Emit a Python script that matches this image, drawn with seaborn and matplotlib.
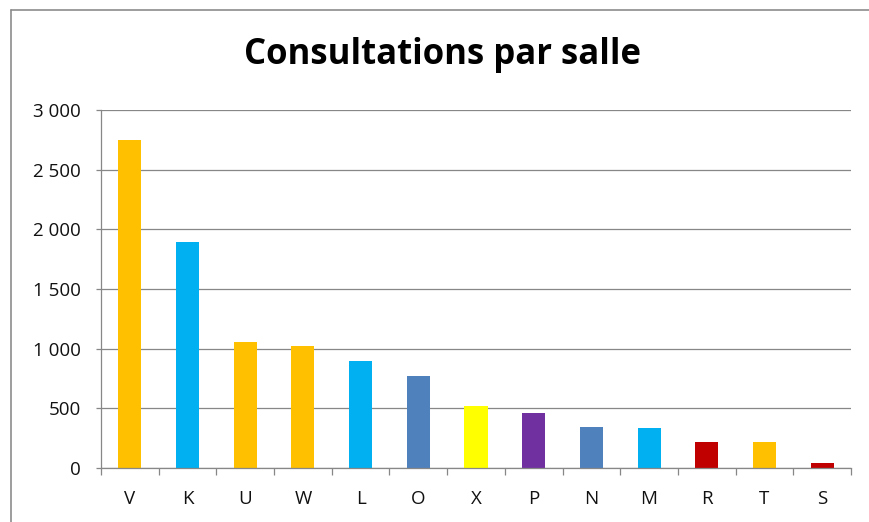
import matplotlib
matplotlib.use("Agg")
import matplotlib.pyplot as plt
import seaborn as sns
import pandas as pd
from matplotlib.lines import Line2D
from matplotlib.ticker import FuncFormatter, MultipleLocator

salles = ["V", "K", "U", "W", "L", "O", "X", "P", "N", "M", "R", "T", "S"]
consultations = [2750, 1890, 1060, 1020, 895, 770, 517, 458, 341, 333, 218, 218, 44]
couleurs = ["#FFC000", "#00B0F0", "#FFC000", "#FFC000", "#00B0F0", "#4F81BD",
            "#FFFF00", "#7030A0", "#4F81BD", "#00B0F0", "#C00000", "#FFC000", "#C00000"]
titre = "Consultations par salle"

sns.set_theme(style="white")
plt.rcParams['font.family'] = ['Open Sans', 'DejaVu Sans']

W, H = 869, 522
fig = plt.figure(figsize=(W / 100, H / 100), dpi=100)
ax = fig.add_axes([101 / W, 1 - 468 / H, (851 - 101) / W, (468 - 110) / H])

df = pd.DataFrame({"salle": salles, "n": consultations})
sns.barplot(data=df, x="salle", y="n", hue="salle", palette=couleurs,
            legend=False, width=0.4, ax=ax, saturation=1, edgecolor="none")

gray = "#878787"
ax.set_ylim(0, 3000)
ax.set_xlim(-0.5, len(salles) - 0.5)
ax.yaxis.set_major_locator(MultipleLocator(500))
ax.yaxis.set_major_formatter(FuncFormatter(lambda v, p: f"{int(v):,}".replace(",", " ")))
ax.grid(axis="y", color=gray, linewidth=0.9)
ax.set_axisbelow(True)
ax.set_xlabel("")
ax.set_ylabel("")
for s in ["top", "right"]:
    ax.spines[s].set_visible(False)
for s in ["left", "bottom"]:
    ax.spines[s].set_color(gray)
    ax.spines[s].set_linewidth(0.9)

ax.set_xticks([i - 0.5 for i in range(len(salles) + 1)], minor=False)
ax.set_xticklabels([])
ax.set_xticks(range(len(salles)), minor=True)
ax.set_xticklabels(salles, minor=True)
ax.tick_params(axis="x", which="major", length=5.2, width=0.9, color=gray, direction="out", bottom=True)
ax.tick_params(axis="x", which="minor", length=0, pad=16, labelsize=13.5, labelcolor="#111111")
ax.tick_params(axis="y", length=3.6, width=0.9, color=gray, direction="out", left=True,
               pad=11, labelsize=13.5, labelcolor="#111111")

fig.text(443 / W, 1 - 55 / H, titre, ha="center", va="center",
         fontsize=25, fontweight="bold", color="black")

# chart-area border (only top and left edges visible)
fig.add_artist(Line2D([11 / W, 1], [1 - 9.5 / H, 1 - 9.5 / H], transform=fig.transFigure,
                      color="#8c8c8c", linewidth=1.2))
fig.add_artist(Line2D([11 / W, 11 / W], [0, 1 - 9.5 / H], transform=fig.transFigure,
                      color="#8c8c8c", linewidth=1.2))

fig.savefig("out.png", dpi=100)
